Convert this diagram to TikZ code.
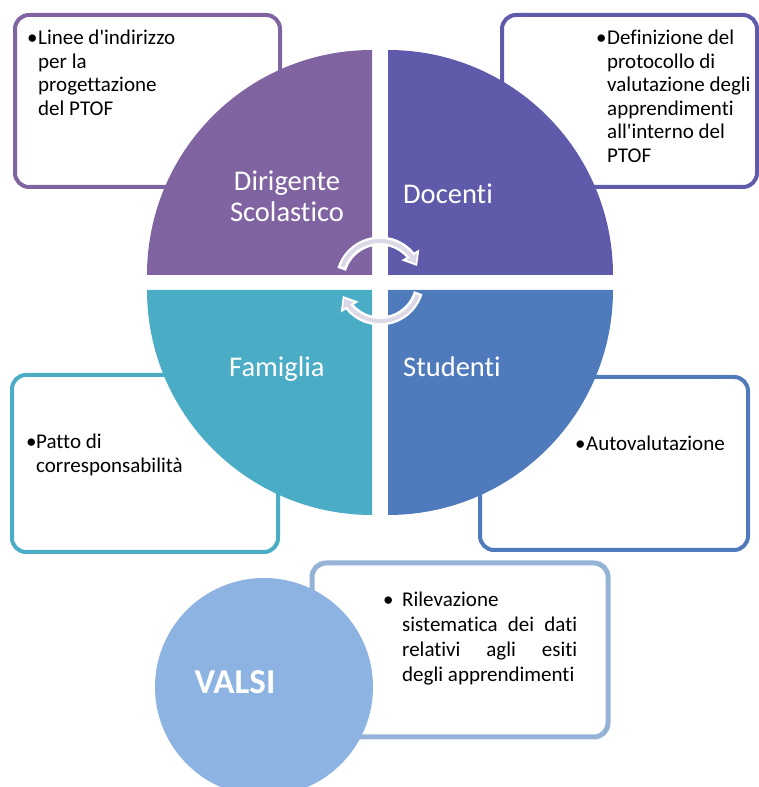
\documentclass[tikz,border=0pt]{standalone}
\usepackage{fontspec}
\setmainfont{Carlito}[Ligatures={TeXOff,CommonOff}]
\usetikzlibrary{arrows.meta,bending}

\definecolor{viola}{HTML}{8064A2}
\definecolor{indaco}{HTML}{5F5BAA}
\definecolor{blu}{HTML}{4F7BBD}
\definecolor{azzurro}{HTML}{4BACC6}
\definecolor{celeste}{HTML}{8DB3E2}
\definecolor{celestebordo}{HTML}{95B3D7}
\definecolor{lavanda}{HTML}{DCD8E8}

\newcommand{\puntato}[2][11pt]{\makebox[#1][l]{\textbullet}\begin{tabular}[t]{@{}l@{}}#2\end{tabular}}

\begin{document}
\begin{tikzpicture}[x=1pt, y=1pt,
    riquadro/.style={draw=#1, line width=4pt, fill=white, rounded corners=14pt, inner sep=0pt},
    voce/.style={anchor=base west, inner sep=0pt, font=\fontsize{21}{23.5}\selectfont},
    etichetta/.style={white, inner sep=0pt, font=\fontsize{28.5}{31}\selectfont}]

    \useasboundingbox (0,0) rectangle (759,787);

    % Boxes behind the circle
    \node[riquadro=viola, minimum width=265pt, minimum height=172pt] (boxDir) at (147.5,686) {};
    \node[riquadro=indaco, minimum width=255pt, minimum height=172pt] (boxDoc) at (629.5,686) {};
    \node[riquadro=azzurro, minimum width=266pt, minimum height=177pt] (boxFam) at (145,323.5) {};
    \node[riquadro=blu, minimum width=268pt, minimum height=173pt] (boxStu) at (614,323.5) {};

    % Quadrant Dirigente Scolastico
    \fill[viola] (372,512) -- (147,512) arc (180:90:225) -- cycle;
    % Quadrant Docenti
    \fill[indaco] (388,512) -- (388,737) arc (90:0:225) -- cycle;
    % Quadrant Famiglia
    \fill[azzurro] (372,497) -- (147,497) arc (180:270:225) -- cycle;
    % Quadrant Studenti
    \fill[blu] (388,497) -- (388,272) arc (270:360:225) -- cycle;

    \node[etichetta, align=center] (dir) at (287,591) {Dirigente\\Scolastico};
    \node[etichetta, anchor=base west] (doc) at (403,583) {Docenti};
    \node[etichetta, anchor=base west] (fam) at (229,410) {Famiglia};
    \node[etichetta, anchor=base west] (stu) at (403,410) {Studenti};

    % Circular arrows in the middle
    \coordinate (perno) at (380,506);
    \foreach \da/\a in {163/22, 343/202} {
        \draw[white, line width=9pt, -{Triangle[length=13pt,width=20pt,flex]}]
            ([shift={(\da:40)}]perno) arc (\da:\a:40);
        \draw[lavanda, line width=4pt, shorten <=2.5pt, shorten >=3pt, -{Triangle[length=8pt,width=12pt,flex]}]
            ([shift={(\da:40)}]perno) arc (\da:\a:40);
    }

    % Box texts
    \node[voce] (tDir) at (27,742) {\puntato{Linee d'indirizzo\\per la\\progettazione\\del PTOF}};
    \node[voce] (tDoc) at (596,742) {\puntato{Definizione del\\protocollo di\\valutazione degli\\apprendimenti\\all'interno del\\PTOF}};
    \node[voce] (tFam) at (26,338) {\puntato[10pt]{Patto di\\corresponsabilità}};
    \node[voce] (tStu) at (575,336) {\puntato{Autovalutazione}};

    % VALSI
    \node[riquadro=celestebordo, line width=5pt, minimum width=296pt, minimum height=174pt] (boxValsi) at (460,137) {};
    \node[circle, fill=celeste, inner sep=0pt, minimum size=218pt] (valsi) at (264,100) {};
    \node[white, inner sep=0pt, font=\bfseries\fontsize{35}{40}\selectfont] (valsiTxt) at (235,105) {VALSI};
    \node[voce, font=\fontsize{21}{25}\selectfont] (tValsi) at (383,180) {\puntato[19pt]{Rilevazione\\
        \makebox[175pt][s]{sistematica dei dati}\\
        \makebox[175pt][s]{relativi agli esiti}\\
        degli apprendimenti}};

\end{tikzpicture}
\end{document}
